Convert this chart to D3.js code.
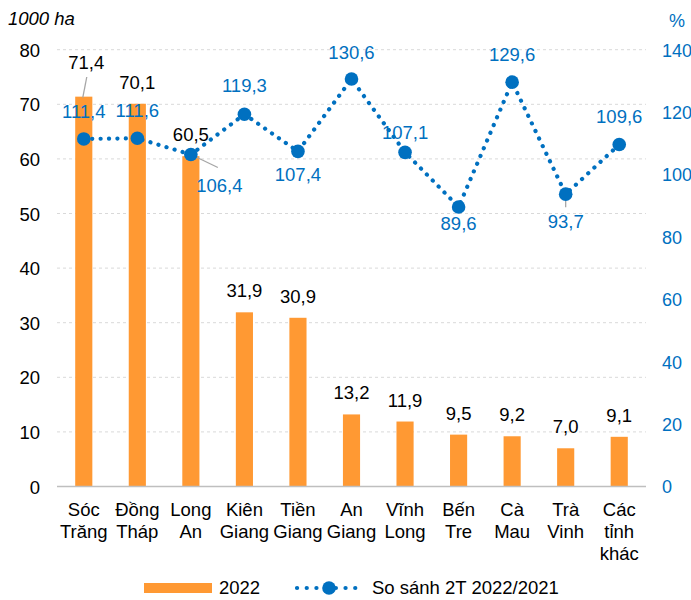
<!DOCTYPE html>
<html>
<head>
<meta charset="utf-8">
<script src="https://cdn.jsdelivr.net/npm/d3@7"></script>
<style>
  html, body { margin: 0; padding: 0; background: #fff; }
  svg { display: block; font-family: "Liberation Sans", Arial, sans-serif; }
</style>
</head>
<body>
<svg id="chart" width="691" height="600"></svg>
<script>
// ---- data ----
const categories = [
  ["Sóc", "Trăng"], ["Đồng", "Tháp"], ["Long", "An"], ["Kiên", "Giang"],
  ["Tiền", "Giang"], ["An", "Giang"], ["Vĩnh", "Long"], ["Bến", "Tre"],
  ["Cà", "Mau"], ["Trà", "Vinh"], ["Các", "tỉnh", "khác"]
];
const area2022 = [71.4, 70.1, 60.5, 31.9, 30.9, 13.2, 11.9, 9.5, 9.2, 7.0, 9.1];
const compare = [111.4, 111.6, 106.4, 119.3, 107.4, 130.6, 107.1, 89.6, 129.6, 93.7, 109.6];
const leftTicks = [0, 10, 20, 30, 40, 50, 60, 70, 80];
const rightTicks = [0, 20, 40, 60, 80, 100, 120, 140];
const seriesNames = ["2022", "So sánh 2T 2022/2021"];

// label placement for the line labels (vertical offset of the label centre from the point)
const lineLabelOffset = [-28, -28, null, -29, 23, -27, -20, 16, -28, 27, -28];

const fmt = v => v.toFixed(1).replace(".", ",");

const svg = d3.select("#chart");
const orange = "#FF9933", blue = "#0070C0";
const fs = 18.5;

const x = d3.scaleBand().domain(d3.range(categories.length))
  .range([57, 646]).paddingInner(0.68).paddingOuter(0.34);
const yL = d3.scaleLinear().domain([0, 80]).range([486.5, 49.7]);
const yR = d3.scaleLinear().domain([0, 140]).range([486.5, 49.7]);
const cx = i => x(i) + x.bandwidth() / 2;

// gridlines
svg.append("g").selectAll("line").data(leftTicks.filter(d => d > 0)).join("line")
  .attr("x1", 57).attr("x2", 646)
  .attr("y1", d => yL(d)).attr("y2", d => yL(d))
  .attr("stroke", "#d9d9d9").attr("stroke-width", 1).attr("stroke-dasharray", "3,3");

// left axis
const gL = svg.append("g").attr("transform", "translate(40,0)")
  .call(d3.axisLeft(yL).tickValues(leftTicks).tickSize(0).tickPadding(0));
gL.select(".domain").remove();
gL.selectAll("text").attr("font-size", fs).attr("fill", "#000")
  .attr("font-family", "Liberation Sans, Arial, sans-serif").attr("dy", "0.36em");

// right axis
const gR = svg.append("g").attr("transform", "translate(662,0)")
  .call(d3.axisRight(yR).tickValues(rightTicks).tickSize(0).tickPadding(0));
gR.select(".domain").remove();
gR.selectAll("text").attr("font-size", 18).attr("fill", blue)
  .attr("font-family", "Liberation Sans, Arial, sans-serif").attr("dy", "0.36em");

// axis titles
svg.append("text").attr("x", 8).attr("y", 25).attr("font-size", fs)
  .attr("font-style", "italic").attr("fill", "#000").text("1000 ha");
svg.append("text").attr("x", 669).attr("y", 27).attr("font-size", 18)
  .attr("fill", blue).text("%");

// bars
svg.append("g").selectAll("rect").data(area2022).join("rect")
  .attr("x", (d, i) => x(i)).attr("width", x.bandwidth())
  .attr("y", d => yL(d)).attr("height", d => yL(0) - yL(d))
  .attr("fill", orange);

// x axis line
svg.append("line").attr("x1", 57).attr("x2", 646).attr("y1", yL(0)).attr("y2", yL(0))
  .attr("stroke", "#bfbfbf").attr("stroke-width", 1.5);

// category labels
const catG = svg.append("g");
categories.forEach((lines, i) => {
  const t = catG.append("text").attr("text-anchor", "middle").attr("font-size", fs).attr("fill", "#000");
  lines.forEach((ln, k) => {
    t.append("tspan").attr("x", cx(i)).attr("y", 516 + k * 22).text(ln);
  });
});

// bar value labels
area2022.forEach((v, i) => {
  if (i === 0) {
    svg.append("line").attr("x1", cx(i) + 3).attr("y1", 77)
      .attr("x2", cx(i) - 1).attr("y2", yL(v) + 1)
      .attr("stroke", "#a6a6a6").attr("stroke-width", 1.3);
    svg.append("text").attr("x", cx(i) + 2.5).attr("y", 68.5).attr("text-anchor", "middle")
      .attr("font-size", fs).attr("fill", "#000").text(fmt(v));
  } else {
    svg.append("text").attr("x", cx(i)).attr("y", yL(v) - 15).attr("text-anchor", "middle")
      .attr("font-size", fs).attr("fill", "#000").text(fmt(v));
  }
});

// line (dotted)
const line = d3.line().x((d, i) => cx(i)).y(d => yR(d));
svg.append("path").datum(compare).attr("d", line)
  .attr("fill", "none").attr("stroke", blue).attr("stroke-width", 4.2)
  .attr("stroke-linecap", "round").attr("stroke-dasharray", "0.1 8.3");

// leader lines for line labels
svg.append("line").attr("x1", cx(2)).attr("y1", yR(compare[2]))
  .attr("x2", cx(2) + 27).attr("y2", yR(compare[2]) + 13)
  .attr("stroke", "#a6a6a6").attr("stroke-width", 1.3);
svg.append("line").attr("x1", cx(9)).attr("y1", yR(compare[9]))
  .attr("x2", cx(9)).attr("y2", yR(compare[9]) + 13)
  .attr("stroke", "#a6a6a6").attr("stroke-width", 1.3);

// markers
svg.append("g").selectAll("circle").data(compare).join("circle")
  .attr("cx", (d, i) => cx(i)).attr("cy", d => yR(d)).attr("r", 6.8).attr("fill", blue);

// line value labels
compare.forEach((v, i) => {
  let lx = cx(i), ly;
  if (lineLabelOffset[i] === null) { lx = cx(i) + 28.5; ly = yR(v) + 30.6; }
  else ly = yR(v) + lineLabelOffset[i];
  svg.append("text").attr("x", lx).attr("y", ly).attr("dy", "0.36em")
    .attr("text-anchor", "middle").attr("font-size", fs).attr("fill", blue).text(fmt(v));
});

// legend
const lg = svg.append("g");
lg.append("rect").attr("x", 144).attr("y", 583).attr("width", 68).attr("height", 10).attr("fill", orange);
lg.append("text").attr("x", 219).attr("y", 594).attr("font-size", fs).attr("fill", "#000").text(seriesNames[0]);
lg.append("line").attr("x1", 297).attr("x2", 356).attr("y1", 588).attr("y2", 588)
  .attr("stroke", blue).attr("stroke-width", 4.2).attr("stroke-linecap", "round")
  .attr("stroke-dasharray", "0.1 9.6");
lg.append("circle").attr("cx", 329).attr("cy", 588).attr("r", 6.8).attr("fill", blue);
lg.append("text").attr("x", 372).attr("y", 594).attr("font-size", fs).attr("fill", "#000").text(seriesNames[1]);
</script>
</body>
</html>
